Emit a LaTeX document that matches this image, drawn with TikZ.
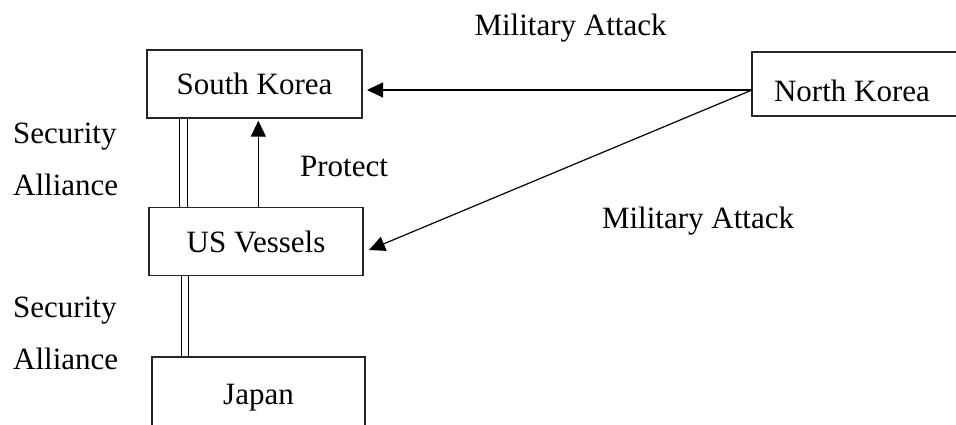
\documentclass[tikz,border=0pt]{standalone}
\usepackage{fontspec}
\setmainfont{Liberation Serif}
\usetikzlibrary{arrows.meta,calc}
\begin{document}
\begin{tikzpicture}[x=1pt,y=-1pt,
  box/.style={draw=black!85,line width=1.3pt,rectangle,inner sep=0pt,
    font=\fontsize{31}{37}\selectfont},
  lbl/.style={inner sep=0pt,font=\fontsize{31}{37}\selectfont},
  arr/.style={line width=1.2pt,-{Triangle[length=16pt,width=15pt]}},
  dbl/.style={line width=1.2pt}]
\clip (0,0) rectangle (956,425);
\fill[white] (0,0) rectangle (956,425);
% boxes
\node[box,minimum width=215pt,minimum height=68pt] (SK) at (254.5,84) {South Korea};
\node[box,minimum width=214pt,minimum height=68pt] (US) at (256,241.5) {US Vessels};
\node[box,minimum width=213pt,minimum height=82pt] (JP) at (258.5,398) {Japan};
\node[box,minimum width=216pt,minimum height=64pt] (NK) at (860,84) {};
\node[lbl] (NKt) at (852,90.5) {North Korea};
% coordinates
\coordinate (nkp) at (752,90);
\coordinate (skin) at (367,90);
\coordinate (usin) at (369,250);
% connectors
\draw[arr] (nkp) -- (skin);
\draw[arr] (nkp) -- (usin);
\draw[arr,shorten >=2pt] ([xshift=110pt]US.north west) -- ([xshift=110pt]US.north west |- SK.south);
\draw[dbl] ([xshift=33pt]SK.south west) -- ([xshift=33pt]SK.south west |- US.north);
\draw[dbl] ([xshift=41pt]SK.south west) -- ([xshift=41pt]SK.south west |- US.north);
\draw[dbl] ([xshift=33pt]US.south west) -- ([xshift=33pt]US.south west |- JP.north);
\draw[dbl] ([xshift=40pt]US.south west) -- ([xshift=40pt]US.south west |- JP.north);
% labels
\node[lbl,anchor=base] (ma1) at (570.5,36) {Military Attack};
\node[lbl,anchor=base] (ma2) at (698,228) {Military Attack};
\node[lbl,anchor=base] (prot) at (344,176) {Protect};
\node[lbl,anchor=base west] (sec1) at (13,143) {Security};
\node[lbl,anchor=base west] (all1) at (13,195) {Alliance};
\node[lbl,anchor=base west] (sec2) at (13,317) {Security};
\node[lbl,anchor=base west] (all2) at (13,369) {Alliance};
\end{tikzpicture}
\end{document}
